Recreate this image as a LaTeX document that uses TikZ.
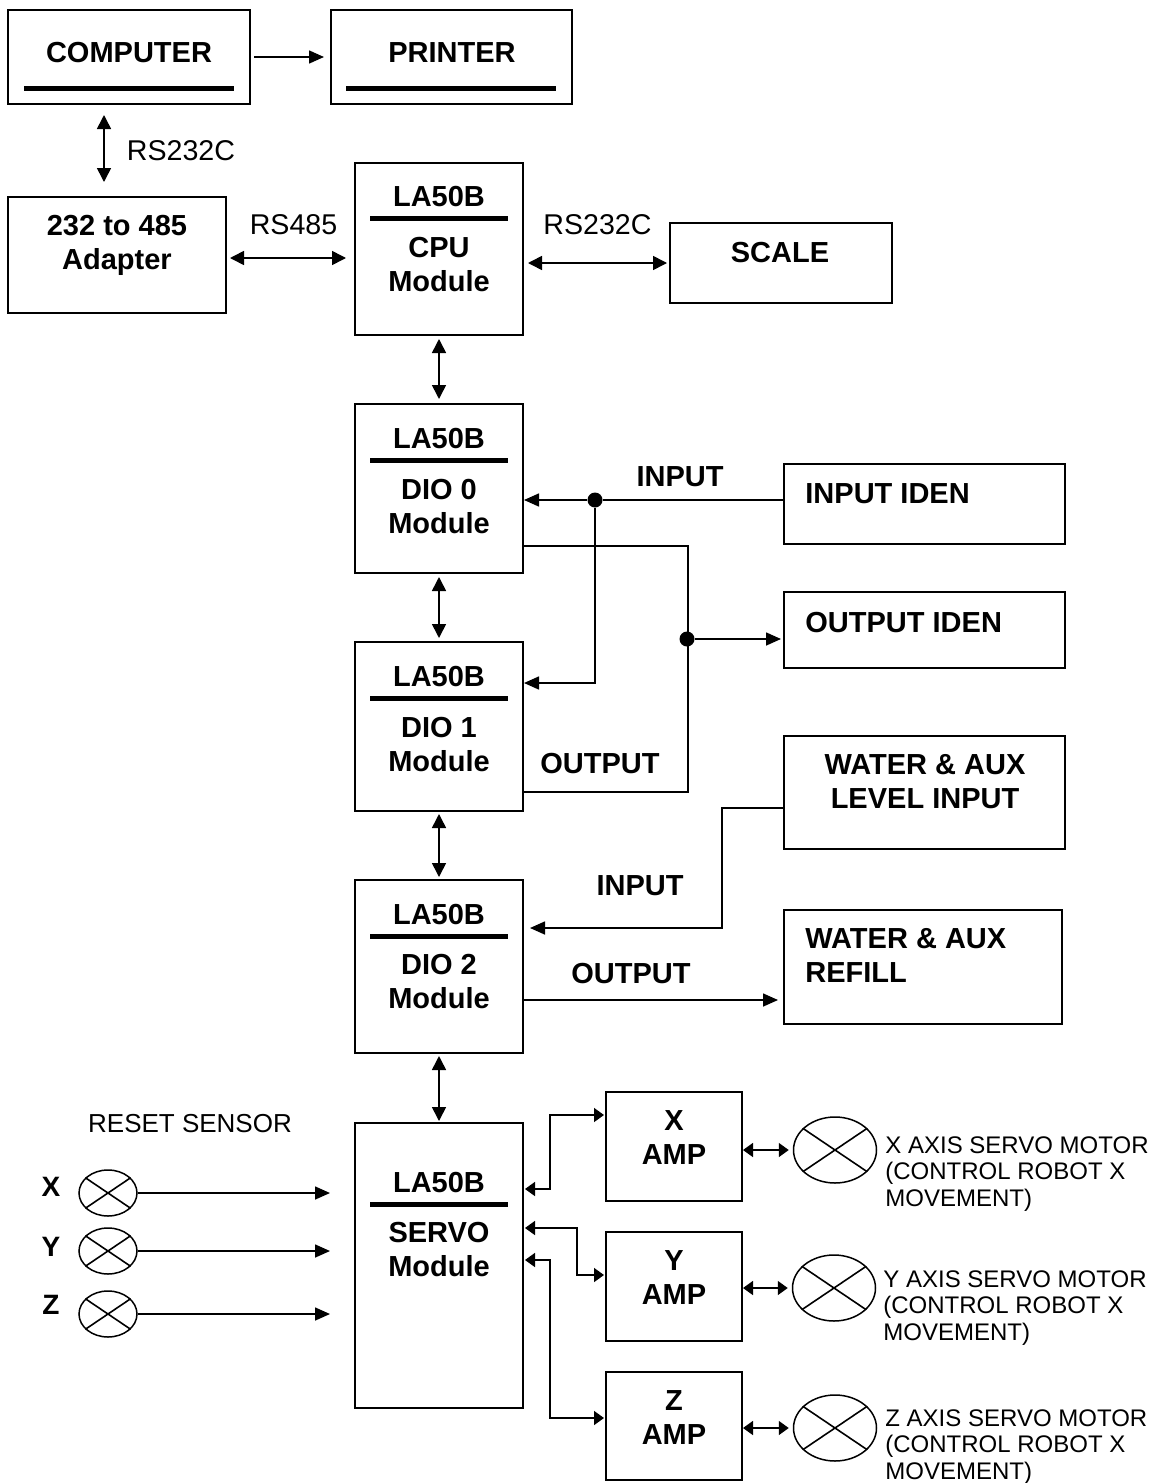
\documentclass[tikz,border=0pt]{standalone}
\usepackage{fontspec}
\setmainfont{Liberation Sans}
\usetikzlibrary{
  arrows.meta,
  calc,
  positioning,
  shapes.geometric
}
\tikzset{
  box/.style={draw, line width=1pt, inner sep=0pt},
  module/.style={box, minimum width=84pt},
  sidebox/.style={box, minimum width=140.5pt},
  ampbox/.style={box, minimum width=68pt, minimum height=54.5pt},
  head/.style={font=\bfseries\fontsize{14.5}{17}\selectfont, inner sep=0pt, anchor=north, align=center},
  sig/.style={font=\fontsize{14.3}{17}\selectfont, inner sep=0pt, anchor=north},
  note/.style={font=\fontsize{12}{13.25}\selectfont, inner sep=0pt, anchor=north west, align=left},
  rulebar/.style={line width=2.5pt},
  wire/.style={line width=0.8pt},
  link/.style={wire, -{Triangle[length=7.5pt,width=6.5pt]}},
  duplex/.style={wire, {Triangle[length=7pt,width=7pt]}-{Triangle[length=7pt,width=7pt]}},
  sduplex/.style={wire, {Triangle[length=5pt,width=7pt]}-{Triangle[length=5pt,width=7pt]}},
  dot/.style={circle, fill, inner sep=0pt, minimum size=7.5pt},
  sensor/.style={ellipse, draw, line width=0.75pt, inner sep=0pt, minimum width=29pt, minimum height=23pt},
  motor/.style={sensor, minimum width=41.5pt, minimum height=33pt}
}

\begin{document}
\begin{tikzpicture}[x=0.5pt,y=-0.5pt]
  \useasboundingbox (0,0) rectangle (1150,1483);

  % Host side
  \node[box, minimum width=121pt, minimum height=47pt] (computer) at (129,57) {};
  \node[head] (computertext) at (129,42) {COMPUTER};
  \draw[rulebar] ($(computer.north west)+(17,79.5)$) -- ($(computer.north east)+(-17,79.5)$);
  \node[box, minimum width=120.5pt, minimum height=47pt] (printer) at (451.5,57) {};
  \node[head] (printertext) at (452,42) {PRINTER};
  \draw[rulebar] ($(printer.north west)+(16,79.5)$) -- ($(printer.north east)+(-17,79.5)$);
  \node[box, minimum width=109pt, minimum height=58pt] (adapter) at (117,255) {};
  \node[head] (adaptertext) at (117,215) {232 to 485\\Adapter};
  \node[box, minimum width=111pt, minimum height=40pt] (scale) at (781,263) {};
  \node[head] (scaletext) at (780,242) {SCALE};

  % LA50B modules
  \node[module, minimum height=86pt] (cpu) at (439,249) {};
  \node[head] (cputitle) at ($(cpu.north)+(0,24)$) {LA50B};
  \draw[rulebar] ($(cpu.north west)+(16,56)$) -- ($(cpu.north east)+(-16,56)$);
  \node[head] (cpuname) at ($(cpu.north)+(0,75)$) {CPU\\Module};

  \node[module, minimum height=84.5pt] (dio0) at (439,488.5) {};
  \node[head] (dio0title) at ($(dio0.north)+(0,25)$) {LA50B};
  \draw[rulebar] ($(dio0.north west)+(16,57)$) -- ($(dio0.north east)+(-16,57)$);
  \node[head] (dio0name) at ($(dio0.north)+(0,76)$) {DIO 0\\Module};

  \node[module, minimum height=84.5pt] (dio1) at (439,726.5) {};
  \node[head] (dio1title) at ($(dio1.north)+(0,25)$) {LA50B};
  \draw[rulebar] ($(dio1.north west)+(16,57)$) -- ($(dio1.north east)+(-16,57)$);
  \node[head] (dio1name) at ($(dio1.north)+(0,76)$) {DIO 1\\Module};

  \node[module, minimum height=86.5pt] (dio2) at (439,966.5) {};
  \node[head] (dio2title) at ($(dio2.north)+(0,25)$) {LA50B};
  \draw[rulebar] ($(dio2.north west)+(16,57)$) -- ($(dio2.north east)+(-16,57)$);
  \node[head] (dio2name) at ($(dio2.north)+(0,75)$) {DIO 2\\Module};

  \node[module, minimum height=142.5pt] (servo) at (439,1265.5) {};
  \node[head] (servotitle) at ($(servo.north)+(0,50)$) {LA50B};
  \draw[rulebar] ($(servo.north west)+(16,82)$) -- ($(servo.north east)+(-16,82)$);
  \node[head] (servoname) at ($(servo.north)+(0,100)$) {SERVO\\Module};

  % Identification and water boxes
  \node[sidebox, minimum height=40pt] (inputiden) at (924.5,504) {};
  \node[head, anchor=north west] (inputidentext) at (805,483) {INPUT IDEN};
  \node[sidebox, minimum height=38pt] (outputiden) at (924.5,630) {};
  \node[head, anchor=north west] (outputidentext) at (805,612) {OUTPUT IDEN};
  \node[sidebox, minimum height=56.5pt] (waterlevel) at (924.5,792.5) {};
  \node[head] (waterleveltext) at (925,754) {WATER \& AUX\\LEVEL INPUT};
  \node[sidebox, minimum width=139pt, minimum height=57pt] (waterrefill) at (923,967) {};
  \node[head, anchor=north west, align=left] (waterrefilltext) at (805,928) {WATER \& AUX\\REFILL};

  % Amplifiers and motors
  \node[ampbox] (xamp) at (674,1146.5) {};
  \node[head] (xamptext) at (674,1110) {X\\AMP};
  \node[ampbox] (yamp) at (674,1286.5) {};
  \node[head] (yamptext) at (674,1250) {Y\\AMP};
  \node[ampbox, minimum height=54pt] (zamp) at (674,1426) {};
  \node[head] (zamptext) at (674,1390) {Z\\AMP};

  \node[motor] (xmotor) at (835,1150) {};
  \draw[wire] (xmotor.146) -- (xmotor.-34) (xmotor.34) -- (xmotor.-146);
  \node[note] (xmotortext) at (885,1136) {X AXIS SERVO MOTOR\\(CONTROL ROBOT X\\MOVEMENT)};
  \node[motor] (ymotor) at (834,1288) {};
  \draw[wire] (ymotor.146) -- (ymotor.-34) (ymotor.34) -- (ymotor.-146);
  \node[note] (ymotortext) at (883,1270) {Y AXIS SERVO MOTOR\\(CONTROL ROBOT X\\MOVEMENT)};
  \node[motor] (zmotor) at (835,1428) {};
  \draw[wire] (zmotor.146) -- (zmotor.-34) (zmotor.34) -- (zmotor.-146);
  \node[note] (zmotortext) at (885,1409) {Z AXIS SERVO MOTOR\\(CONTROL ROBOT X\\MOVEMENT)};

  % Reset sensors
  \node[sig, font=\fontsize{13}{15}\selectfont] (resetlabel) at (190,1114) {RESET SENSOR};
  \node[sensor] (xsensor) at (108,1193) {};
  \draw[wire] (xsensor.146) -- (xsensor.-34) (xsensor.34) -- (xsensor.-146);
  \node[head, font=\bfseries\fontsize{14}{17}\selectfont] (xsensorname) at (51,1177) {X};
  \node[sensor] (ysensor) at (108,1251) {};
  \draw[wire] (ysensor.146) -- (ysensor.-34) (ysensor.34) -- (ysensor.-146);
  \node[head, font=\bfseries\fontsize{14}{17}\selectfont] (ysensorname) at (51,1237) {Y};
  \node[sensor] (zsensor) at (108,1314) {};
  \draw[wire] (zsensor.146) -- (zsensor.-34) (zsensor.34) -- (zsensor.-146);
  \node[head, font=\bfseries\fontsize{14}{17}\selectfont] (zsensorname) at (51,1295) {Z};

  % Connector labels
  \node[sig] (rs232top) at (181,140) {RS232C};
  \node[sig] (rs485) at (293.5,214) {RS485};
  \node[sig] (rs232scale) at (597.5,214) {RS232C};
  \node[head] (dio0input) at (680,466) {INPUT};
  \node[head] (dio1output) at (600,753) {OUTPUT};
  \node[head] (dio2input) at (640,875) {INPUT};
  \node[head] (dio2output) at (631,963) {OUTPUT};

  % Serial links
  \draw[link, shorten <=1.5pt, shorten >=3pt] (computer) -- (printer);
  \draw[duplex] ($(computer.south west)+(97,10)$) -- ($(adapter.north west)+(97,-14)$);
  \draw[duplex] ($(adapter.east)+(3,3)$) -- ($(cpu.west)+(-8,9)$);
  \draw[duplex] ($(cpu.east |- scale)+(4,0)$) -- ($(scale.west)+(-2,0)$);

  % Module bus
  \draw[duplex] ($(cpu.south)+(0,3)$) -- ($(dio0.north)+(0,-4)$);
  \draw[duplex] ($(dio0.south)+(0,3)$) -- ($(dio1.north)+(0,-3)$);
  \draw[duplex] ($(dio1.south)+(0,2)$) -- ($(dio2.north)+(0,-2)$);
  \draw[duplex] ($(dio2.south)+(0,2)$) -- ($(servo.north)+(0,-1)$);

  % DIO 0 / DIO 1 identification lines
  \node[dot] (injoin) at (595,500) {};
  \draw[wire] ($(inputiden.west)+(0,-4)$) -- (injoin);
  \draw[link] (injoin) -- (injoin -| dio0.east);
  \draw[link] (injoin) |- ($(dio1.east)+(0,-43.5)$);
  \draw[wire] ($(dio0.east)+(0,57.5)$) -| ($(dio1.east)+(164,65.5)$) -- ($(dio1.east)+(0,65.5)$);
  \node[dot] (outjoin) at (687,639) {};
  \draw[link, shorten >=1pt] (outjoin) -- (outjoin -| outputiden.west);

  % DIO 2 water lines
  \draw[link] ($(waterlevel.west)+(0,15.5)$) -| ($(dio2.east)+(198,-38.5)$) -- ($(dio2.east)+(6,-38.5)$);
  \draw[link] ($(dio2.east)+(0,33.5)$) -- ($(waterrefill.west |- dio2.east)+(-5,33.5)$);

  % Servo to amplifiers
  \draw[sduplex] ($(servo.east)+(1,-76.5)$) -| ($(xamp.west)+(-55,-31.5)$) -- ($(xamp.west)+(-1,-31.5)$);
  \draw[sduplex] ($(servo.east)+(1,-37.5)$) -| ($(yamp.west)+(-28,-11.5)$) -- ($(yamp.west)+(-1,-11.5)$);
  \draw[sduplex] ($(servo.east)+(1,-5.5)$) -| ($(zamp.west)+(-55,-8)$) -- ($(zamp.west)+(-1,-8)$);
  \draw[sduplex, shorten >=2pt] (xamp.east |- xmotor) -- (xmotor.west);
  \draw[sduplex, shorten >=2pt] (yamp.east |- ymotor) -- (ymotor.west);
  \draw[sduplex, shorten >=2pt] (zamp.east |- zmotor) -- (zmotor.west);

  % Reset sensor inputs
  \draw[link] (xsensor.east) -- ($(xsensor.east -| servo.west)+(-24,0)$);
  \draw[link] (ysensor.east) -- ($(ysensor.east -| servo.west)+(-24,0)$);
  \draw[link] (zsensor.east) -- ($(zsensor.east -| servo.west)+(-24,0)$);
\end{tikzpicture}
\end{document}
